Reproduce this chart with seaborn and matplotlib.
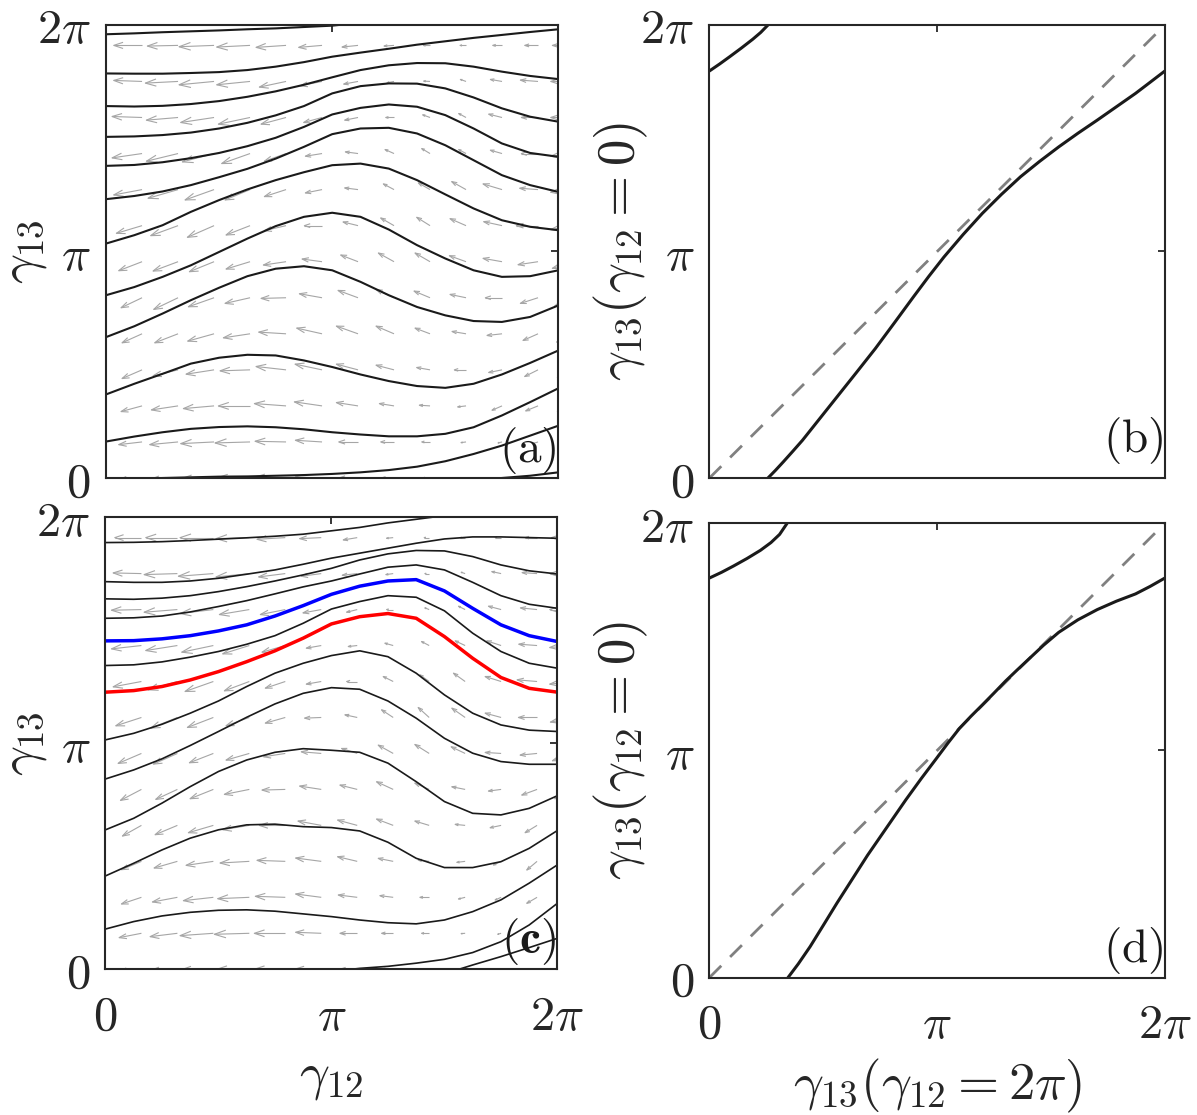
import numpy as np
import matplotlib
matplotlib.use("Agg")
import matplotlib.pyplot as plt
import seaborn as sns
from matplotlib.collections import LineCollection

# ---------------- data (angles in units of pi) ----------------
# common gamma12 sample positions for the trajectories
X_PI = [0.0, 0.125, 0.25, 0.375, 0.5, 0.625, 0.75, 0.875, 1.0,
        1.125, 1.25, 1.375, 1.5, 1.625, 1.75, 1.875, 2.0]

# panel (a): trajectories gamma13(gamma12), read at X_PI
A_CURVES = [
    [1.786, 1.785, 1.785, 1.788, 1.792, 1.801, 1.816, 1.836, 1.860, 1.878, 1.895, 1.913, 1.928, 1.943, 1.956, 1.969, 1.981],
    [1.642, 1.640, 1.643, 1.651, 1.664, 1.683, 1.707, 1.736, 1.769, 1.801, 1.822, 1.832, 1.831, 1.816, 1.794, 1.775, 1.761],
    [1.506, 1.508, 1.514, 1.525, 1.543, 1.568, 1.601, 1.642, 1.698, 1.730, 1.742, 1.741, 1.720, 1.680, 1.632, 1.595, 1.573],
    [1.378, 1.382, 1.394, 1.412, 1.435, 1.465, 1.502, 1.550, 1.605, 1.634, 1.649, 1.639, 1.602, 1.543, 1.477, 1.435, 1.418],
    [1.231, 1.245, 1.265, 1.293, 1.328, 1.365, 1.410, 1.462, 1.518, 1.543, 1.546, 1.521, 1.469, 1.403, 1.337, 1.293, 1.263],
    [1.035, 1.072, 1.116, 1.175, 1.227, 1.274, 1.315, 1.350, 1.381, 1.388, 1.366, 1.315, 1.252, 1.190, 1.138, 1.109, 1.094],
    [0.807, 0.843, 0.888, 0.939, 0.998, 1.057, 1.112, 1.153, 1.171, 1.153, 1.097, 1.028, 0.969, 0.917, 0.888, 0.891, 0.917],
    [0.622, 0.670, 0.726, 0.785, 0.840, 0.891, 0.924, 0.935, 0.917, 0.866, 0.807, 0.755, 0.718, 0.693, 0.689, 0.711, 0.762],
    [0.369, 0.416, 0.460, 0.505, 0.531, 0.544, 0.541, 0.519, 0.490, 0.457, 0.428, 0.406, 0.398, 0.416, 0.457, 0.508, 0.563],
    [0.161, 0.183, 0.202, 0.217, 0.225, 0.228, 0.224, 0.215, 0.202, 0.192, 0.184, 0.184, 0.195, 0.224, 0.276, 0.335, 0.396],
    [-0.009, -0.004, 0.000, 0.003, 0.006, 0.007, 0.010, 0.013, 0.018, 0.025, 0.035, 0.050, 0.074, 0.106, 0.143, 0.187, 0.231],
]
# partial trajectories of (a) (leave through the top / enter from the bottom)
A_TOP_X = [0.0, 0.125, 0.25, 0.375, 0.5, 0.625, 0.75, 0.875, 1.0, 1.125]
A_TOP_Y = [1.959, 1.963, 1.968, 1.972, 1.976, 1.981, 1.985, 1.991, 1.997, 2.010]
A_LOW_X = [1.625, 1.75, 1.875, 2.0]
A_LOW_Y = [-0.010, 0.000, 0.010, 0.025]

# panel (c)
C_CURVES = [
    [1.715, 1.712, 1.712, 1.718, 1.730, 1.748, 1.767, 1.792, 1.819, 1.841, 1.863, 1.885, 1.904, 1.913, 1.913, 1.910, 1.907],
    [1.639, 1.637, 1.642, 1.653, 1.671, 1.693, 1.718, 1.745, 1.774, 1.811, 1.838, 1.853, 1.851, 1.826, 1.789, 1.763, 1.749],
    [1.553, 1.555, 1.563, 1.581, 1.605, 1.631, 1.661, 1.692, 1.718, 1.749, 1.779, 1.789, 1.767, 1.712, 1.653, 1.615, 1.597],
    [1.344, 1.347, 1.360, 1.381, 1.406, 1.438, 1.476, 1.531, 1.594, 1.627, 1.653, 1.646, 1.586, 1.487, 1.406, 1.354, 1.332],
    [1.015, 1.044, 1.084, 1.133, 1.187, 1.251, 1.310, 1.354, 1.388, 1.409, 1.383, 1.310, 1.214, 1.133, 1.081, 1.058, 1.052],
    [0.842, 0.882, 0.931, 0.990, 1.052, 1.115, 1.174, 1.221, 1.246, 1.239, 1.187, 1.111, 1.022, 0.956, 0.919, 0.907, 0.907],
    [0.617, 0.668, 0.735, 0.808, 0.875, 0.926, 0.960, 0.976, 0.969, 0.960, 0.912, 0.830, 0.742, 0.690, 0.683, 0.712, 0.768],
    [0.413, 0.469, 0.528, 0.580, 0.617, 0.639, 0.642, 0.631, 0.627, 0.612, 0.562, 0.491, 0.450, 0.450, 0.476, 0.535, 0.614],
    [0.178, 0.211, 0.236, 0.252, 0.261, 0.263, 0.257, 0.245, 0.233, 0.218, 0.206, 0.201, 0.218, 0.255, 0.307, 0.381, 0.462],
]
C_BLUE = [1.453, 1.454, 1.462, 1.476, 1.497, 1.524, 1.563, 1.609, 1.659, 1.695, 1.718, 1.724, 1.674, 1.597, 1.524, 1.476, 1.450]
C_RED = [1.226, 1.233, 1.251, 1.280, 1.317, 1.361, 1.409, 1.465, 1.528, 1.560, 1.574, 1.553, 1.472, 1.376, 1.291, 1.243, 1.226]
C_TOP_X = [0.0, 0.125, 0.25, 0.375, 0.5, 0.625, 0.75, 0.875, 1.0, 1.125, 1.25, 1.375, 1.5]
C_TOP_Y = [1.888, 1.889, 1.892, 1.897, 1.903, 1.909, 1.916, 1.925, 1.940, 1.955, 1.975, 1.991, 2.007]
C_LOW1_X = [1.0, 1.125, 1.25, 1.375, 1.5, 1.625, 1.75, 1.875, 2.0]
C_LOW1_Y = [-0.010, 0.004, 0.013, 0.027, 0.044, 0.074, 0.122, 0.196, 0.292]
C_LOW2_X = [1.5, 1.625, 1.75, 1.875, 2.0]
C_LOW2_Y = [-0.020, 0.019, 0.056, 0.096, 0.137]

# return maps: x = gamma13(gamma12=2pi), y = gamma13(gamma12=0)
B_MAIN_X = [0.257, 0.290, 0.324, 0.365, 0.408, 0.484, 0.560, 0.644, 0.728, 0.812, 0.896, 0.963, 1.030,
            1.114, 1.198, 1.282, 1.366, 1.450, 1.534, 1.618, 1.703, 1.787, 1.871, 1.935, 2.0]
B_MAIN_Y = [0.000, 0.034, 0.071, 0.117, 0.166, 0.262, 0.358, 0.464, 0.571, 0.685, 0.800, 0.890, 0.976,
            1.075, 1.168, 1.252, 1.330, 1.398, 1.462, 1.522, 1.580, 1.639, 1.698, 1.747, 1.797]
B_WRAP_X = [0.0, 0.045, 0.089, 0.140, 0.190, 0.225, 0.257]
B_WRAP_Y = [1.797, 1.828, 1.860, 1.898, 1.937, 1.967, 2.0]
D_MAIN_X = [0.345, 0.390, 0.442, 0.500, 0.560, 0.627, 0.694, 0.778, 0.862, 0.930, 0.997, 1.047, 1.097, 1.148,
            1.198, 1.249, 1.300, 1.350, 1.400, 1.467, 1.534, 1.618, 1.703, 1.787, 1.871, 1.935, 2.0]
D_MAIN_Y = [0.000, 0.060, 0.136, 0.230, 0.328, 0.433, 0.538, 0.660, 0.782, 0.876, 0.965, 1.032, 1.096, 1.150,
            1.200, 1.252, 1.305, 1.353, 1.400, 1.463, 1.520, 1.575, 1.620, 1.657, 1.689, 1.722, 1.759]
D_WRAP_X = [0.0, 0.053, 0.106, 0.165, 0.224, 0.270, 0.308, 0.341]
D_WRAP_Y = [1.759, 1.784, 1.812, 1.845, 1.881, 1.915, 1.951, 2.0]
DIAG = [0.0, 2.0]

GRID_12 = [0.5, 1.0, 1.5, 2.0, 2.5, 3.0, 3.5, 4.0, 4.5, 5.0, 5.5, 6.0, 6.5]
GRID_13 = [0.0, 0.5, 1.0, 1.5, 2.0, 2.5, 3.0, 3.5, 4.0, 4.5, 5.0, 5.5, 6.0]

U_A = [
    [-70, -85, -100, -100, -95, -80, -58, -38, -22, -12, -10, -15, -45],
    [-70, -85, -100, -105, -93, -80, -58, -40, -25, -15, -12, -15, -45],
    [-63, -80, -92, -95, -95, -83, -65, -44, -32, -25, -30, -37, -50],
    [-60, -75, -84, -90, -90, -81, -65, -54, -40, -35, -40, -40, -50],
    [-60, -70, -79, -80, -82, -76, -65, -54, -45, -42, -45, -45, -52],
    [-63, -73, -77, -75, -75, -68, -60, -54, -48, -48, -50, -53, -58],
    [-70, -75, -74, -72, -68, -60, -52, -47, -45, -50, -57, -60, -65],
    [-77, -82, -80, -72, -65, -53, -45, -40, -40, -48, -55, -65, -70],
    [-85, -90, -87, -75, -65, -50, -40, -32, -35, -43, -57, -55, -70],
    [-90, -95, -95, -85, -65, -50, -38, -27, -25, -22, -35, -50, -70],
    [-90, -95, -100, -95, -75, -55, -40, -25, -22, -22, -40, -50, -70],
    [-85, -98, -105, -100, -80, -65, -43, -21, -19, -17, -35, -53, -70],
    [-85, -92, -105, -100, -90, -70, -48, -30, -20, -18, -28, -40, -65],
]
V_A = [
    [-5, -5, -3, 0, 2, 3, 0, 0, 0, 0, -2, -3, -4],
    [-8, -8, -5, -3, 2, 5, 0, 0, 0, -2, -3, -5, -7],
    [-17, -12, -8, 0, 7, 12, 10, 7, 2, -3, -13, -15, -17],
    [-26, -18, -13, -3, 10, 17, 17, 14, 7, 0, -8, -20, -23],
    [-27, -27, -22, -12, 5, 17, 23, 23, 17, 7, -5, -20, -25],
    [-30, -35, -27, -17, -2, 12, 22, 25, 20, 10, 0, -17, -25],
    [-27, -28, -30, -22, -10, 8, 20, 26, 26, 18, 10, -9, -20],
    [-23, -30, -35, -28, -15, 0, 11, 23, 25, 21, 12, 0, -12],
    [-16, -26, -31, -31, -21, -10, 5, 17, 20, 24, 17, 4, -8],
    [-13, -23, -25, -30, -23, -8, 5, 12, 15, 12, 10, 0, -8],
    [3, -8, -15, -20, -20, -15, -8, 0, 8, 12, 10, 0, 0],
    [3, -5, -10, -10, -17, -13, -8, -4, 1, 6, 6, 4, 0],
    [0, -2, -4, -5, -6, -6, -5, -2, 0, 0, 0, 0, 0],
]
U_C = [
    [-67, -82, -100, -100, -93, -77, -52, -35, -23, -12, -10, -14, -45],
    [-67, -82, -100, -105, -93, -77, -52, -35, -23, -12, -10, -14, -45],
    [-60, -75, -90, -95, -90, -77, -57, -40, -28, -20, -18, -31, -45],
    [-60, -70, -82, -88, -85, -77, -59, -45, -33, -25, -23, -31, -48],
    [-57, -67, -75, -80, -78, -70, -59, -50, -43, -30, -33, -36, -50],
    [-63, -65, -70, -75, -70, -65, -52, -50, -43, -40, -38, -46, -55],
    [-70, -72, -72, -70, -65, -60, -47, -45, -43, -42, -48, -51, -62],
    [-77, -80, -78, -70, -60, -50, -37, -35, -33, -40, -48, -56, -68],
    [-85, -88, -85, -75, -60, -45, -32, -30, -28, -35, -48, -60, -70],
    [-90, -95, -95, -80, -70, -45, -27, -25, -23, -30, -43, -55, -70],
    [-90, -100, -100, -90, -75, -55, -32, -20, -13, -20, -38, -50, -70],
    [-85, -100, -105, -100, -80, -60, -45, -22, -13, -12, -28, -45, -70],
    [-80, -95, -100, -100, -85, -65, -42, -20, -15, -15, -18, -36, -65],
]
V_C = [
    [-5, -4, -3, -1, 0, 1, 0, 0, 0, 0, -1, -2, -4],
    [-13, -10, -7, -3, 0, 3, 0, 0, 0, -1, -3, -5, -7],
    [-20, -14, -10, -4, 3, 10, 7, 5, 0, -5, -8, -18, -17],
    [-25, -20, -12, -5, 3, 10, 14, 9, 4, -3, -11, -26, -23],
    [-32, -28, -22, -13, 0, 13, 16, 19, 13, 3, -7, -22, -28],
    [-33, -30, -28, -15, -2, 10, 13, 23, 19, 8, -5, -17, -28],
    [-30, -32, -28, -20, -10, 5, 15, 25, 27, 20, 3, -5, -22],
    [-25, -32, -30, -25, -17, -2, 8, 23, 30, 28, 13, 0, -14],
    [-16, -25, -30, -28, -20, -8, 0, 15, 20, 25, 15, 5, -8],
    [-10, -15, -20, -25, -20, -8, -3, 7, 12, 14, 14, 4, -6],
    [-2, -8, -12, -15, -15, -10, -8, 0, 5, 10, 10, 5, 0],
    [2, -3, -8, -10, -10, -8, -5, -3, 0, 4, 6, 3, 0],
    [0, 0, 0, -3, -5, -3, -7, -2, 0, 0, 0, 0, 0],
]

TICK_LABELS = [r"$0$", r"$\pi$", r"$2\pi$"]

# ---------------- style ----------------
sns.set_theme(style="white")
plt.rcParams["mathtext.fontset"] = "cm"
plt.rcParams["font.family"] = ["DejaVu Serif"]
INK = "#262626"
ARROW_SCALE = 0.00463      # arrow units -> radians
ARROW_COLOR = "#a6a6a6"
TICK_SIZE = 35
LABEL_SIZE = 38
PANEL_SIZE = 34
PI = np.pi


def pi_line(ax, x, y, **kw):
    sns.lineplot(x=np.asarray(x) * PI, y=np.asarray(y) * PI, ax=ax,
                 sort=False, estimator=None, legend=False, **kw)


def draw_field(ax, U, V):
    X, Y = np.meshgrid(GRID_12, GRID_13)
    U = np.asarray(U, float) * ARROW_SCALE
    V = np.asarray(V, float) * ARROW_SCALE
    a, b = 0.33, 0.33
    segs = []
    for x0, y0, u, v in zip(X.ravel(), Y.ravel(), U.ravel(), V.ravel()):
        x1, y1 = x0 + u, y0 + v
        segs.append([(x0, y0), (x1, y1)])
        segs.append([(x1 - a * (u + b * v), y1 - a * (v - b * u)), (x1, y1),
                     (x1 - a * (u - b * v), y1 - a * (v + b * u))])
    ax.add_collection(LineCollection(segs, colors=ARROW_COLOR, linewidths=0.8, zorder=1))


def style_axes(ax, show_x):
    ax.set_xlim(0, 2 * PI)
    ax.set_ylim(0, 2 * PI)
    ax.set_xticks([0, PI, 2 * PI])
    ax.set_yticks([0, PI, 2 * PI])
    ax.set_yticklabels(TICK_LABELS)
    ax.set_xticklabels(TICK_LABELS if show_x else [])
    ax.tick_params(axis="both", direction="in", length=5, width=1.3, top=True, right=True,
                   color=INK, labelcolor=INK, labelsize=TICK_SIZE)
    ax.tick_params(axis="y", pad=11)
    ax.tick_params(axis="x", pad=17)
    for s in ax.spines.values():
        s.set_visible(True)
        s.set_linewidth(1.5)
        s.set_color(INK)
        s.set_zorder(5)


def panel_label(ax, txt, yoff):
    ax.text(0.997, yoff, txt, transform=ax.transAxes, ha="right", va="bottom",
            fontsize=PANEL_SIZE, color="k", zorder=6)


fig = plt.figure(figsize=(11.97, 11.15), dpi=100)
ax_a = fig.add_axes([0.0886, 0.5713, 0.3779, 0.4063])
ax_b = fig.add_axes([0.5927, 0.5713, 0.3805, 0.4063])
ax_c = fig.add_axes([0.0881, 0.1307, 0.3776, 0.4054])
ax_d = fig.add_axes([0.5927, 0.1233, 0.3805, 0.4074])

# (a)
draw_field(ax_a, U_A, V_A)
for c in A_CURVES:
    pi_line(ax_a, X_PI, c, color="k", lw=1.5)
pi_line(ax_a, A_TOP_X, A_TOP_Y, color="k", lw=1.5)
pi_line(ax_a, A_LOW_X, A_LOW_Y, color="k", lw=1.5)

# (c)
draw_field(ax_c, U_C, V_C)
for c in C_CURVES:
    pi_line(ax_c, X_PI, c, color="k", lw=1.2)
pi_line(ax_c, C_TOP_X, C_TOP_Y, color="k", lw=1.2)
pi_line(ax_c, C_LOW1_X, C_LOW1_Y, color="k", lw=1.2)
pi_line(ax_c, C_LOW2_X, C_LOW2_Y, color="k", lw=1.2)
pi_line(ax_c, X_PI, C_BLUE, color="#0000ff", lw=2.5)
pi_line(ax_c, X_PI, C_RED, color="#ff0000", lw=2.5)

# (b), (d)
for ax, mx, my, wx, wy in [(ax_b, B_MAIN_X, B_MAIN_Y, B_WRAP_X, B_WRAP_Y),
                           (ax_d, D_MAIN_X, D_MAIN_Y, D_WRAP_X, D_WRAP_Y)]:
    pi_line(ax, DIAG, DIAG, color="#808080", lw=2.0)
    ax.lines[-1].set_linestyle((0, (6, 4.5)))
    pi_line(ax, mx, my, color="k", lw=2.2)
    pi_line(ax, wx, wy, color="k", lw=2.2)

for ax, show_x in [(ax_a, False), (ax_b, False), (ax_c, True), (ax_d, True)]:
    style_axes(ax, show_x)

ax_a.set_ylabel(r"$\gamma_{13}$", fontsize=LABEL_SIZE, color=INK)
ax_c.set_ylabel(r"$\gamma_{13}$", fontsize=LABEL_SIZE, color=INK)
ax_b.set_ylabel(r"$\gamma_{13}(\gamma_{12}=0)$", fontsize=LABEL_SIZE, color=INK)
ax_d.set_ylabel(r"$\gamma_{13}(\gamma_{12}=0)$", fontsize=LABEL_SIZE, color=INK)
ax_c.set_xlabel(r"$\gamma_{12}$", fontsize=LABEL_SIZE, color=INK)
ax_d.set_xlabel(r"$\gamma_{13}(\gamma_{12}=2\pi)$", fontsize=LABEL_SIZE, color=INK)
ax_a.yaxis.set_label_coords(-0.127, 0.5)
ax_c.yaxis.set_label_coords(-0.126, 0.5)
ax_b.yaxis.set_label_coords(-0.131, 0.5)
ax_d.yaxis.set_label_coords(-0.131, 0.5)
ax_c.xaxis.set_label_coords(0.5, -0.18)
ax_d.xaxis.set_label_coords(0.5, -0.175)

panel_label(ax_a, r"$\mathrm{(a)}$", 0.004)
panel_label(ax_b, r"$\mathrm{(b)}$", 0.026)
panel_label(ax_c, r"$\mathbf{(c)}$", 0.004)
panel_label(ax_d, r"$\mathrm{(d)}$", 0.004)

fig.savefig("out.png", dpi=100)
